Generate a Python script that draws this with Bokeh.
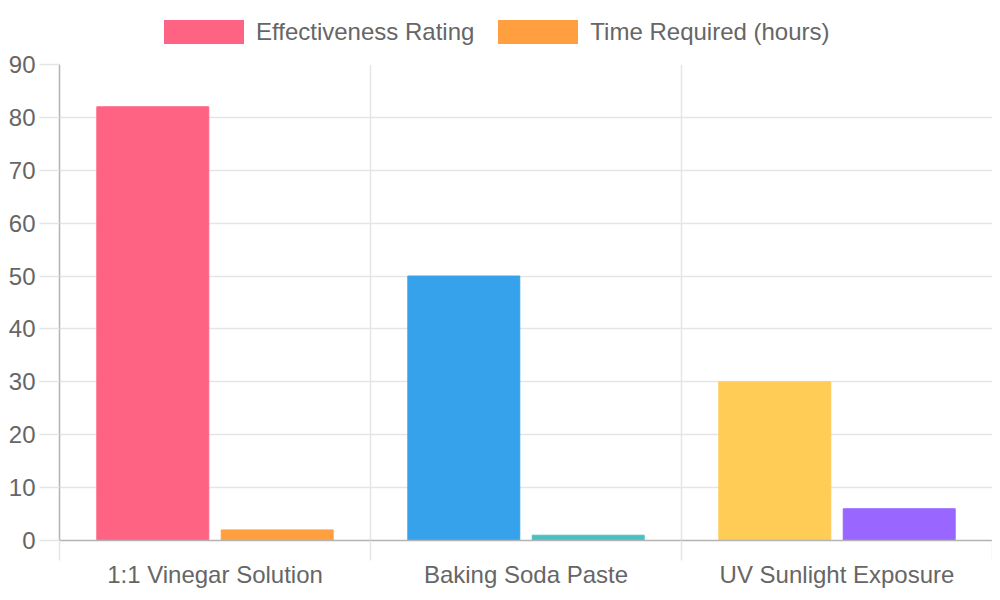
from bokeh.embed import file_html
from bokeh.layouts import column
from bokeh.models import ColumnDataSource, Div, FixedTicker, Range1d
from bokeh.plotting import figure
from bokeh.resources import INLINE

# data
methods = ["1:1 Vinegar Solution", "Baking Soda Paste", "UV Sunlight Exposure"]
series = ["Effectiveness Rating", "Time Required (hours)"]
effectiveness = [82, 50, 30]
time_hours = [2, 1, 6]
effect_colors = ["#FF6384", "#36A2EB", "#FFCD56"]
time_colors = ["#FF9F40", "#4BC0C0", "#9966FF"]
y_ticks = [0, 10, 20, 30, 40, 50, 60, 70, 80, 90]

FONT = "Liberation Sans"
TEXT = "#666666"
GRID = "#e5e5e5"
AXIS = "#b3b3b3"

centers = [i + 0.5 for i in range(len(methods))]
src_eff = ColumnDataSource(dict(x=[c - 0.2 for c in centers], top=effectiveness, color=effect_colors))
src_time = ColumnDataSource(dict(x=[c + 0.2 for c in centers], top=time_hours, color=time_colors))

p = figure(width=992, height=540, output_backend="svg", toolbar_location=None,
           x_range=Range1d(0, len(methods)), y_range=Range1d(0, 90),
           min_border_left=59, min_border_right=0, min_border_top=14, min_border_bottom=50)
p.outline_line_color = None

p.vbar(x="x", top="top", width=0.36, bottom=0, source=src_eff,
       fill_color="color", line_color="color", line_width=1)
p.vbar(x="x", top="top", width=0.36, bottom=0, source=src_time,
       fill_color="color", line_color="color", line_width=1)

# x axis: labels at category centers, tick marks at category boundaries
xa = p.xaxis[0]
xa.ticker = FixedTicker(ticks=centers, minor_ticks=list(range(len(methods) + 1)))
xa.major_label_overrides = {c: m for c, m in zip(centers, methods)}
xa.major_tick_line_color = None
xa.major_tick_out = 0
xa.major_tick_in = 0
xa.minor_tick_out = 20
xa.minor_tick_in = 0
xa.minor_tick_line_color = GRID
xa.minor_tick_line_width = 1.5
xa.major_label_standoff = 0
xa.axis_line_color = AXIS
xa.axis_line_width = 1.5
xa.major_label_text_font = FONT
xa.major_label_text_font_size = "24px"
xa.major_label_text_color = TEXT

ya = p.yaxis[0]
ya.ticker = FixedTicker(ticks=y_ticks)
ya.major_tick_out = 20
ya.major_tick_in = 0
ya.major_tick_line_color = GRID
ya.major_tick_line_width = 1.5
ya.minor_tick_line_color = None
ya.major_label_standoff = 4
ya.axis_line_color = AXIS
ya.axis_line_width = 1.5
ya.major_label_text_font = FONT
ya.major_label_text_font_size = "24px"
ya.major_label_text_color = TEXT

p.xgrid.ticker = FixedTicker(ticks=list(range(len(methods) + 1)))
p.ygrid.ticker = FixedTicker(ticks=y_ticks)
for g in (p.xgrid[0], p.ygrid[0]):
    g.grid_line_color = GRID
    g.grid_line_width = 1.5

# legend as html above the plot (bokeh's legend in a side panel misbehaves here)
box = "display:inline-block;width:80px;height:24px;margin-right:12px;background:{}"
legend_html = (
    f'<div style="display:flex;align-items:center;margin:15px 0 0 164px;white-space:nowrap;'
    f'font-family:\'{FONT}\';font-size:24px;color:{TEXT}">'
    f'<span style="{box.format(effect_colors[0])}"></span><span>{series[0]}</span>'
    f'<span style="{box.format(time_colors[0])};margin-left:24px"></span><span>{series[1]}</span>'
    f'</div>'
)
legend = Div(text=legend_html, width=992, height=50, margin=(0, 0, 0, 0))

layout = column(legend, p, spacing=0)
open("out.html", "w").write(file_html(layout, INLINE))
